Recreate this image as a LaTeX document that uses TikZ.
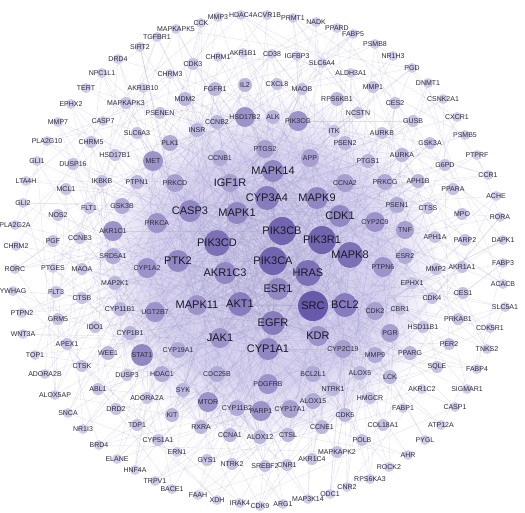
\documentclass[tikz,border=0pt]{standalone}
\usepackage{fontspec}
\setmainfont{Liberation Sans}
\pgfdeclarelayer{bg}
\pgfsetlayers{bg,main}
\definecolor{ndark}{RGB}{88,72,160}
\definecolor{nlight}{RGB}{218,217,240}
\definecolor{edgec}{RGB}{165,160,205}
\definecolor{lavA}{RGB}{214,210,239}
\definecolor{hubtext}{RGB}{25,25,40}
\definecolor{smtext}{RGB}{45,45,60}
\pgfdeclareradialshading{coreshade}{\pgfpoint{0bp}{0bp}}{color(0bp)=(lavA); color(16bp)=(lavA); color(25bp)=(white); color(50bp)=(white)}
\tikzset{
  gene/.style={circle, inner sep=0pt, draw=none},
  hublab/.style={font=\fontsize{11}{11}\selectfont, text=hubtext, inner sep=0pt},
  smlab/.style={font=\fontsize{7}{7}\selectfont, text=smtext, inner sep=0pt},
  edge/.style={draw=edgec, line width=0.35pt, opacity=0.32},
}
\begin{document}
\begin{tikzpicture}[x=1pt,y=-1pt]
\useasboundingbox (0,0) rectangle (525,512);
\begin{pgfonlayer}{bg}
\fill[white] (0,0) rectangle (525,512);
\shade[shading=coreshade] (268,268) circle (175pt);
\end{pgfonlayer}
% hubs
\foreach \nm/\x/\y/\r [count=\i] in {SRC/313/306/15, PIK3CA/273/261/14, PIK3CB/282/231/14, PIK3R1/322/240/14, PIK3CD/217/243/13, HRAS/308/273/13, MAPK8/350/255/13, AKT1/240/304/12, EGFR/273/323/12, CYP3A4/267/198/12, BCL2/345/305/12, CYP1A1/268/349/11, ESR1/278/289/11, MAPK1/237/213/11, MAPK14/273/171/11, MAPK9/317/198/11, CDK1/340/216/11, CASP3/190/211/11, PTK2/178/261/11, AKR1C3/225/273/11, IGF1R/230/183/9, MAPK11/197/305/10, JAK1/220/338/10, KDR/318/336/10}{
  \pgfmathsetmacro\dd{2*\r}
  \pgfmathtruncatemacro\pc{min(95,(\r-4)*8)}
  \node[gene, minimum size=\dd pt, fill=ndark!\pc!nlight, alias=h\i, label={[hublab]center:\nm}] (\nm) at (\x,\y) {};
  \xdef\nhub{\i}
}
% medium nodes
\foreach \nm/\x/\y/\r [count=\i] in {HSD17B2/245/117/10, PIK3CG/298/121/10, MET/153/161/10, PRKCA/157/223/10, AKR1C1/113/231/10, CYP1A2/147/268/10, UGT2B7/155/312/10, STAT1/142/355/11, PTPN6/383/267/10, CDK2/375/311/9, PGR/390/333/9, CYP2C9/375/222/10, TNF/405/230/9, PSEN1/397/205/8, MTOR/208/402/10, PARP1/261/411/10, CYP17A1/290/409/9, PDGFRB/268/384/10, ESR2/405/256/8, CYP2C19/343/349/9, PTGS2/265/149/9, APP/310/158/9, CCNB1/220/158/8, PRKCD/175/183/9, CCNA2/345/183/9, CDC25B/217/374/8, BCL2L1/313/374/8, CYP19A1/178/350/8, PLK1/170/143/8, INSR/197/130/7, CCNB2/217/122/7, MMP9/375/355/8, CYP11B2/237/408/8, ALOX15/313/401/8, CDK5/345/415/7, SRD5A1/113/256/8, MAP2K1/115/283/7, CYP11B1/120/309/7, CYP1B1/130/333/7, HDAC1/162/374/8, GSK3B/122/206/8, PTPN1/137/182/7, PRKCG/385/182/8, AURKA/402/155/7, PTGS1/368/161/7, MDM2/185/99/7, FGFR1/215/89/7, IL2/245/85/7, RPS6KB1/337/99/7, ALK/273/117/7, PSEN2/345/143/7, RXRA/201/427/7, CCNA1/230/435/7, ALOX12/260/437/7, CTSL/288/435/7, CCNE1/322/427/7, NTRK1/333/389/7, SYK/183/390/7, KIT/172/415/7, LCK/390/377/7, ALOX5/360/373/7, PPARG/410/353/7, WEE1/108/353/7, APH1B/418/181/7}{
  \pgfmathsetmacro\dd{2*\r}
  \pgfmathtruncatemacro\pc{min(95,(\r-4)*8)}
  \node[gene, minimum size=\dd pt, fill=ndark!\pc!nlight, alias=m\i, label={[smlab]center:\nm}] (\nm) at (\x,\y) {};
  \xdef\nmid{\i}
}
% small nodes
\foreach \nm/\x/\y/\r [count=\i] in {MMP7/58/122/5, EPHX2/71/104/5, TERT/86/88/5, NPC1L1/102/73/5, DRD4/118/59/5, SIRT2/140/47/5, TGFBR1/157/37/5, MAPKAPK5/176/29/5, CCK/201/23/5, MMP3/218/17/5, HDAC4/241/15/5, ACVR1B/267/15/5, PRMT1/293/18/5, NADK/316/22/5, PPARD/337/28/5, FABP5/353/34/5, PSMB8/375/44/5, NR1H3/393/56/5, PGD/412/68/5, DNMT1/428/83/5, CSNK2A1/443/99/5, CXCR1/457/117/5, CASP7/103/121/5, MAPKAPK3/126/103/6, AKR1B10/143/88/5, CHRM3/170/74/5, CHRM1/218/57/5, AKR1B1/243/53/5, CD38/272/54/5, IGFBP3/297/56/5, SLC6A4/322/63/5, ALDH3A1/351/73/5, MMP1/373/87/6, CES2/395/103/6, GUSB/413/121/6, NCSTN/358/113/6, CDK3/193/64/6, PSENEN/160/113/6, CXCL8/277/84/6, MAOB/302/89/6, ITK/334/131/6, SLC6A3/137/133/6, AURKB/382/133/6, GSK3A/430/143/6, PSMB5/465/135/5, PTPRF/477/155/5, G6PD/445/165/6, CCR1/488/175/5, PPARA/453/189/6, ACHE/496/196/5, CTSS/428/208/6, MPO/462/214/6, RORA/500/217/5, APH1A/435/237/6, PARP2/465/240/6, DAPK1/503/240/5, PLA2G10/47/141/5, CHRM5/91/142/6, HSD17B1/115/155/6, GLI1/37/161/5, DUSP16/73/164/6, LTA4H/26/181/5, MCL1/66/189/6, IKBKB/102/181/6, GLI2/23/203/5, FLT1/89/208/6, NOS2/58/215/6, PLA2G2A/15/225/5, PGF/53/241/6, CCNB3/80/238/6, CHRM2/16/246/5, RORC/15/269/5, PTGES/53/268/5, MAOA/82/269/6, YWHAG/13/291/5, FLT3/56/292/6, CTSB/82/298/6, PTPN2/22/313/5, GRM5/58/319/6, IDO1/95/327/6, WNT3A/23/334/5, APEX1/67/344/6, TOP1/35/355/5, CTSK/82/366/6, ADORA2B/45/374/5, DUSP3/127/375/6, ALOX5AP/55/395/5, ABL1/98/389/6, ADORA2A/147/398/6, SNCA/68/413/5, DRD2/116/409/6, NR1I3/83/429/5, TDP1/137/425/6, BRD4/99/445/5, CYP51A1/158/440/6, ELANE/117/459/5, HNF4A/135/470/5, TRPV1/155/481/5, BACE1/172/489/5, ERN1/177/452/5, GYS1/207/460/6, NTRK2/232/464/6, SREBF2/265/466/6, CNR1/287/465/6, AKR1C4/312/459/6, MAPKAPK2/337/452/6, FAAH/198/495/5, XDH/217/500/5, IRAK4/240/503/5, CDK9/260/506/5, ARG1/283/504/5, MAP3K14/308/499/5, ODC1/330/494/5, CNR2/347/487/5, RPS6KA3/370/479/5, ROCK2/389/467/5, AHR/408/455/5, POLB/362/440/6, PYGL/425/440/5, COL18A1/383/425/6, ATP12A/441/425/5, FABP1/403/408/5, CASP1/455/407/5, HMGCR/370/398/6, AKR1C2/422/389/5, SIGMAR1/467/389/5, SQLE/437/367/6, FABP4/477/369/5, PER2/449/344/6, TNKS2/487/349/5, HSD11B1/423/327/6, CDK5R1/490/328/5, CBR1/400/309/6, PRKAB1/458/319/6, SLC5A1/505/307/5, CDK4/432/298/6, CES1/463/293/6, EPHX1/412/283/6, ACACB/503/284/5, MMP2/436/269/6, AKR1A1/462/267/6, FABP3/503/263/5}{
  \pgfmathsetmacro\dd{2*\r}
  \pgfmathtruncatemacro\pc{min(95,(\r-4)*8)}
  \node[gene, minimum size=\dd pt, fill=ndark!\pc!nlight, alias=s\i, label={[smlab]center:\nm}] (\nm) at (\x,\y) {};
  \xdef\nsmall{\i}
}
% connectors
\pgfmathsetseed{7}
\begin{pgfonlayer}{bg}
\foreach \a in {1,...,\nhub}{
  \foreach \b in {\a,...,\nhub}{
    \ifnum\a<\b \draw[edge] (h\a) -- (h\b); \fi
  }
}
\foreach \i in {1,...,\nmid}{
  \foreach \k in {1,2,3}{
    \pgfmathtruncatemacro\j{random(1,\nhub)}
    \draw[edge] (m\i) -- (h\j);
  }
  \pgfmathtruncatemacro\j{random(1,\nmid)}
  \ifnum\j=\i\else \draw[edge] (m\i) -- (m\j); \fi
}
\foreach \i in {1,...,\nsmall}{
  \pgfmathtruncatemacro\j{random(1,\nhub)}
  \draw[edge] (s\i) -- (h\j);
  \pgfmathtruncatemacro\j{random(1,\nmid)}
  \draw[edge] (s\i) -- (m\j);
  \pgfmathtruncatemacro\j{random(1,\nsmall)}
  \ifnum\j=\i\else \draw[edge] (s\i) -- (s\j); \fi
}
\end{pgfonlayer}
\end{tikzpicture}
\end{document}
